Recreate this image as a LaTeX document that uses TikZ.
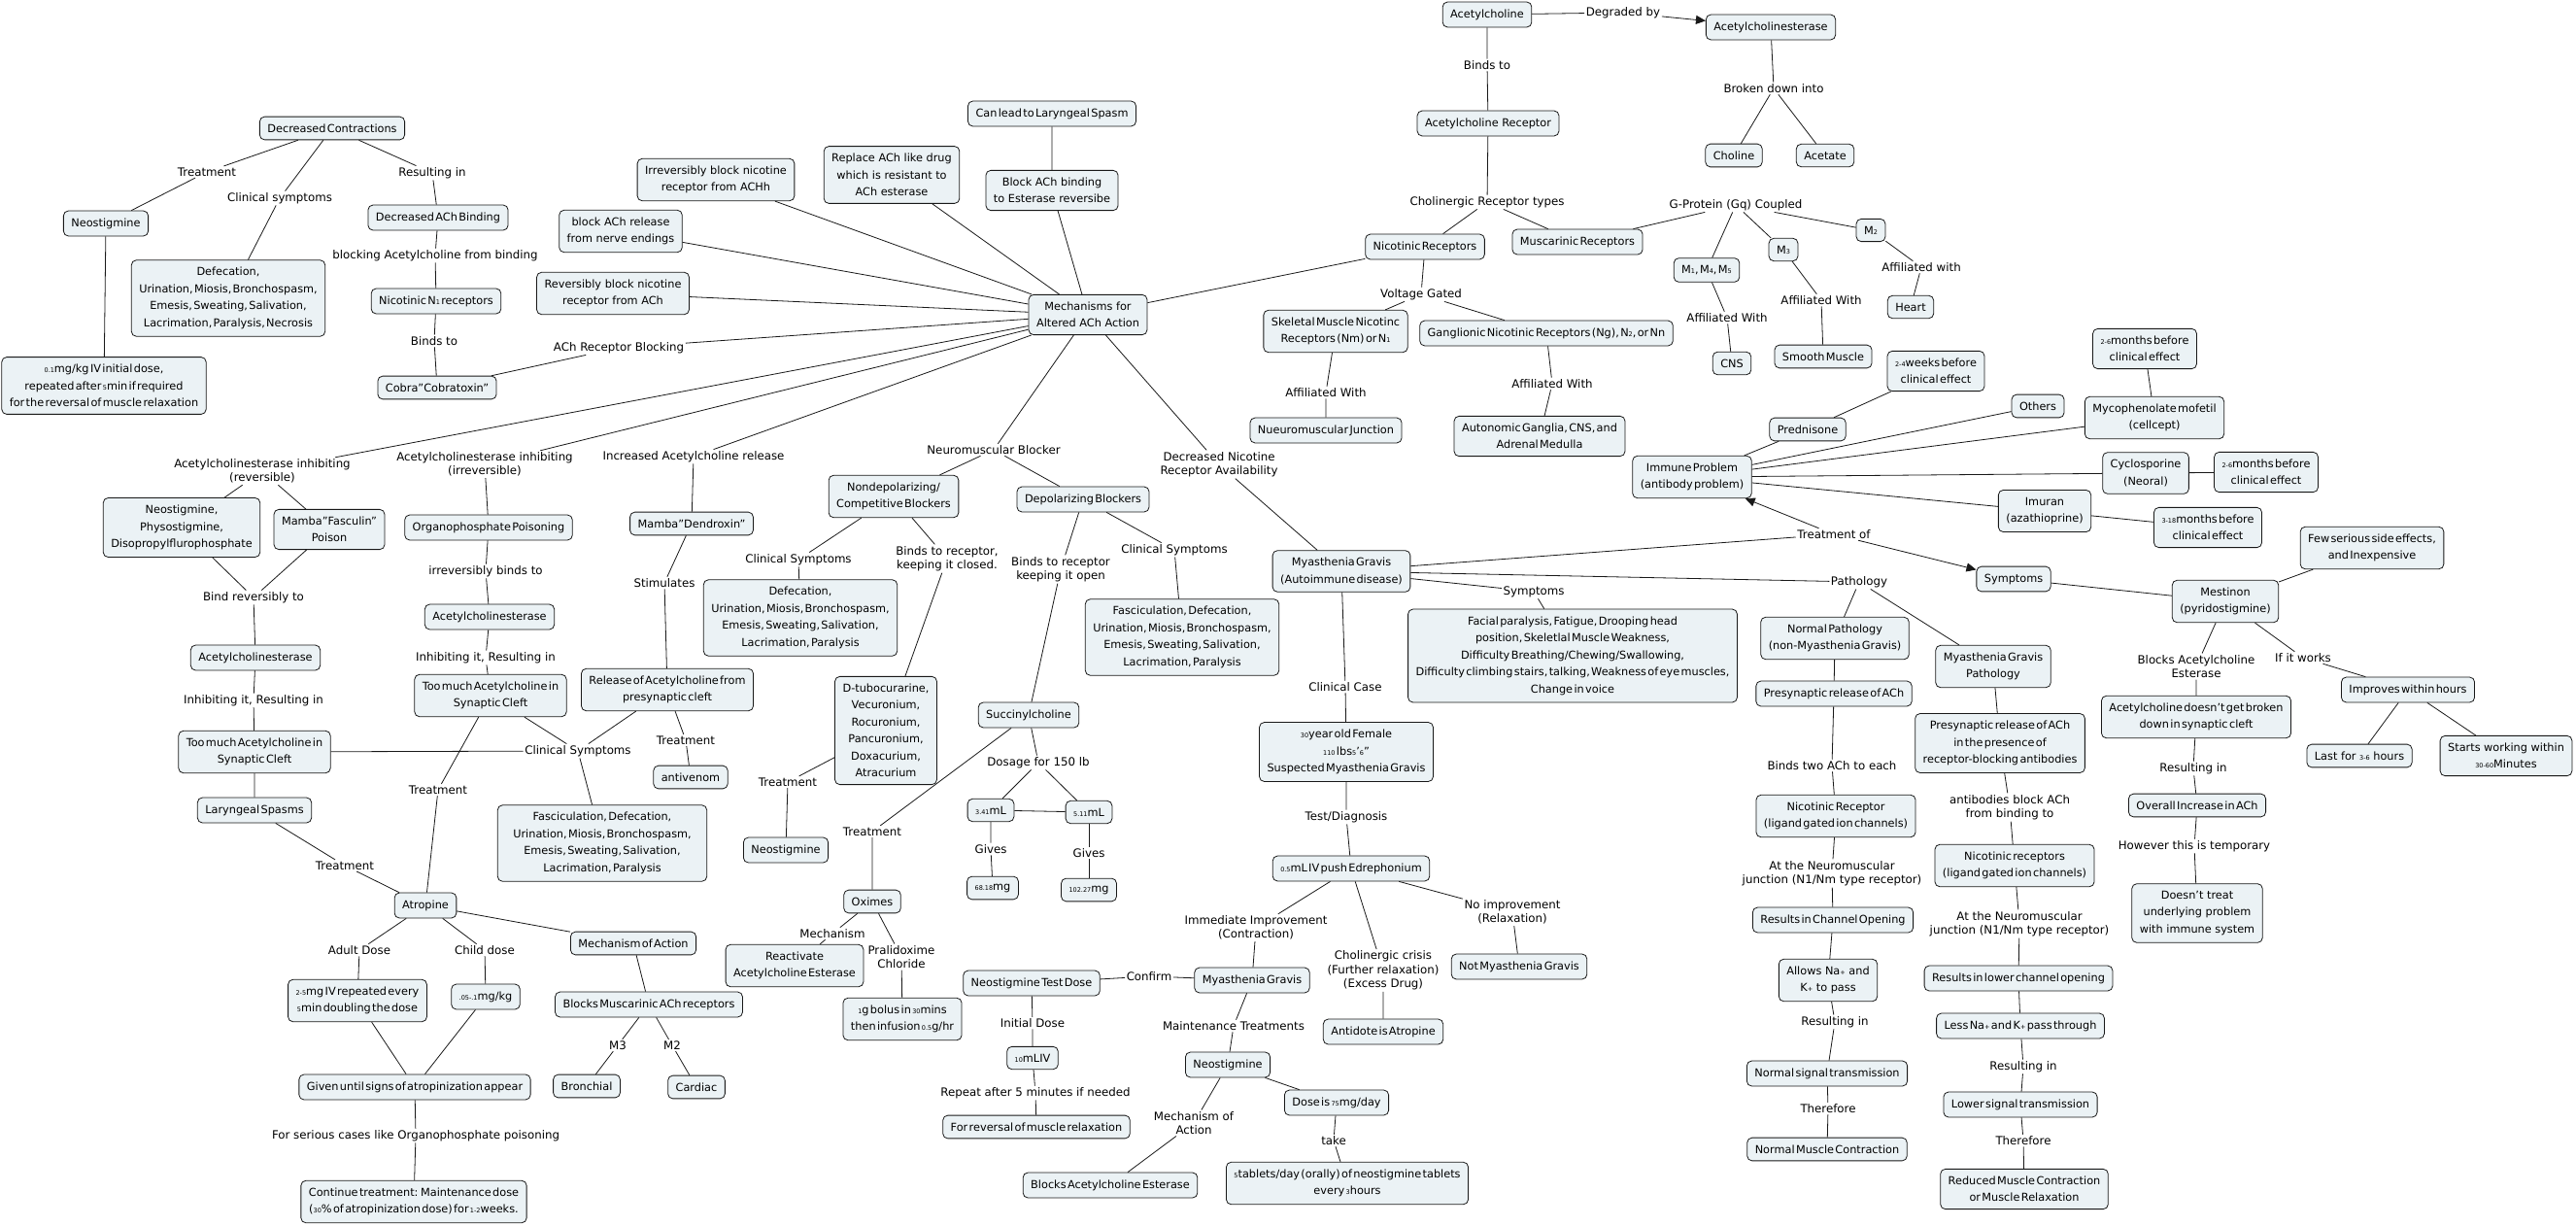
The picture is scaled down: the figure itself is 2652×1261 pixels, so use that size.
\documentclass[tikz,border=0pt]{standalone}
\usepackage{fontspec}
\setmainfont{DejaVu Sans}
\usepackage{xcolor}
\usepackage{tikz}
\usetikzlibrary{arrows.meta}
\definecolor{conceptfill}{RGB}{235,242,245}
\newcommand\boxfont{\fontsize{11.3}{17.5}\selectfont}
\newcommand\linkfont{\fontsize{11.8}{14.5}\selectfont}
\newcommand\tightsp{\spaceskip=0.12em\relax}
\newcommand\dg[1]{{\fontsize{6.5}{7}\selectfont #1}}
\tikzset{
	cbox/.style={draw=black!90, fill=conceptfill, rounded corners=5pt, align=center,
		inner xsep=8pt, inner ysep=7.5pt, line width=0.8pt, font=\boxfont},
	tbox/.style={cbox, font=\boxfont\tightsp},
	lbl/.style={fill=white, inner sep=1.5pt, align=center, font=\linkfont},
	link/.style={line width=0.8pt, draw=black!90},
	linkarrow/.style={-{Triangle[length=10pt,width=9pt]}, line width=0.8pt, draw=black!90}
}
\begin{document}
\begin{tikzpicture}[x=1pt, y=-1pt]

%% -- Canvas (pixel grid of the map)
\fill[white] (0,0) rectangle (2652,1261);
\useasboundingbox (0,0) rectangle (2652,1261);

%% -- Hub
\node[cbox] (mech) at (1120,324) {Mechanisms for\\Altered ACh Action};
\node[cbox] (irrev) at (737,185) {Irreversibly block nicotine\\receptor from ACHh};
\node[cbox] (relblock) at (639,238) {block ACh release\\from nerve endings};
\node[cbox] (revblock) at (631,302) {Reversibly block nicotine\\receptor from ACh};
\node[cbox] (replace) at (918,180) {Replace ACh like drug\\which is resistant to\\ACh esterase};
\node[cbox] (blockbind) at (1083,196) {Block ACh binding\\to Esterase reversibe};
\node[tbox] (canlead) at (1083,117) {Can lead to Laryngeal Spasm};

%% -- Receptor blocking (top left)
\node[tbox] (deccon) at (342,132) {Decreased Contractions};
\node[cbox] (neo1) at (109,230) {Neostigmine};
\node[tbox] (defec1) at (235,307) {Defecation,\\Urination, Miosis, Bronchospasm,\\Emesis, Sweating, Salivation,\\Lacrimation, Paralysis, Necrosis};
\node[tbox] (dose1) at (107,397) {\dg{0.1}mg/kg IV initial dose,\\repeated after \dg{5}min if required\\for the reversal of muscle relaxation};
\node[tbox] (dacb) at (451,224) {Decreased ACh Binding};
\node[tbox] (nicn1) at (449,310) {Nicotinic N\dg{1} receptors};
\node[cbox] (cobra) at (450,399) {Cobra"Cobratoxin"};

\node[lbl] (lTreat1) at (213,177) {Treatment};
\node[lbl] (lClin1) at (288,204) {Clinical symptoms};
\node[lbl] (lRes1) at (445,178) {Resulting in};
\node[lbl] (lBlock) at (448,263) {blocking Acetylcholine from binding};
\node[lbl] (lBinds1) at (447,351) {Binds to};
\node[lbl] (lRecBlock) at (637,358) {ACh Receptor Blocking};

%% -- Esterase inhibitors and release (bottom left)
\node[lbl] (lInhRev) at (270,485) {Acetylcholinesterase inhibiting\\(reversible)};
\node[lbl] (lInhIrr) at (499,478) {Acetylcholinesterase inhibiting\\(irreversible)};
\node[lbl] (lIncRel) at (714,470) {Increased Acetylcholine release};

\node[cbox] (neophys) at (187,543) {Neostigmine,\\Physostigmine,\\Disopropylflurophosphate};
\node[cbox] (fasculin) at (339,545) {Mamba"Fasculin"\\Poison};
\node[lbl] (lBindRev) at (261,615) {Bind reversibly to};
\node[cbox] (ache1) at (263,677) {Acetylcholinesterase};
\node[lbl] (lInh1) at (261,721) {Inhibiting it, Resulting in};
\node[tbox] (toomuch1) at (262,774) {Too much Acetylcholine in\\Synaptic Cleft};
\node[tbox] (laryn) at (262,834) {Laryngeal Spasms};

\node[tbox] (organo) at (503,543) {Organophosphate Poisoning};
\node[lbl] (lIrrBind) at (500,588) {irreversibly binds to};
\node[cbox] (ache2) at (504,635) {Acetylcholinesterase};
\node[lbl] (lInh2) at (500,677) {Inhibiting it, Resulting in};
\node[tbox] (toomuch2) at (505,716) {Too much Acetylcholine in\\Synaptic Cleft};

\node[tbox] (dendro) at (712,539) {Mamba"Dendroxin"};
\node[lbl] (lStim) at (684,600) {Stimulates};
\node[tbox] (release) at (687,710) {Release of Acetylcholine from\\presynaptic cleft};
\node[lbl] (lTreat3) at (706,762) {Treatment};
\node[cbox] (antiven) at (711,800) {antivenom};

\node[lbl] (lClin2) at (595,773) {Clinical Symptoms};
\node[tbox, inner xsep=16pt] (fasc1) at (620,868) {Fasciculation, Defecation,\\Urination, Miosis, Bronchospasm,\\Emesis, Sweating, Salivation,\\Lacrimation, Paralysis};
\node[lbl] (lTreat2) at (451,813) {Treatment};
\node[lbl] (lTreat4) at (355,891) {Treatment};

%% -- Atropine
\node[cbox] (atropine) at (438,932) {Atropine};
\node[lbl] (lAdult) at (370,978) {Adult Dose};
\node[lbl] (lChild) at (499,978) {Child dose};
\node[tbox] (adult) at (368,1030) {\dg{2-5}mg IV repeated every\\\dg{5}min doubling the dose};
\node[tbox] (child) at (500,1026) {\dg{.05-.1}mg/kg};
\node[tbox] (given) at (427,1119) {Given until signs of atropinization appear};
\node[lbl] (lSerious) at (428,1169) {For serious cases like Organophosphate poisoning};
\node[tbox] (cont) at (426,1237) {Continue treatment: Maintenance dose\\(\dg{30}\% of atropinization dose) for \dg{1-2}weeks.};
\node[tbox] (moa) at (652,971) {Mechanism of Action};
\node[tbox] (blmusc) at (668,1034) {Blocks Muscarinic ACh receptors};
\node[lbl] (lM3) at (636,1076) {M3};
\node[lbl] (lM2) at (692,1076) {M2};
\node[cbox] (bronch) at (604,1118) {Bronchial};
\node[cbox] (cardiac) at (717,1119) {Cardiac};

%% -- Neuromuscular blockers
\node[lbl] (lNMB) at (1023,463) {Neuromuscular Blocker};
\node[tbox] (nondep) at (920,511) {Nondepolarizing/\\Competitive Blockers};
\node[tbox] (depol) at (1115,514) {Depolarizing Blockers};
\node[lbl] (lClin3) at (822,576) {Clinical Symptoms};
\node[tbox] (defec2) at (824,636) {Defecation,\\Urination, Miosis, Bronchospasm,\\Emesis, Sweating, Salivation,\\Lacrimation, Paralysis};
\node[lbl] (lClosed) at (975,575) {Binds to receptor,\\keeping it closed.};
\node[cbox] (dtubo) at (912,752) {D-tubocurarine,\\Vecuronium,\\Rocuronium,\\Pancuronium,\\Doxacurium,\\Atracurium};
\node[lbl] (lOpen) at (1092,586) {Binds to receptor\\keeping it open};
\node[cbox] (succ) at (1059,736) {Succinylcholine};
\node[lbl] (lClin4) at (1209,566) {Clinical Symptoms};
\node[tbox] (fasc2) at (1217,656) {Fasciculation, Defecation,\\Urination, Miosis, Bronchospasm,\\Emesis, Sweating, Salivation,\\Lacrimation, Paralysis};
\node[lbl] (lTreat5) at (811,805) {Treatment};
\node[cbox] (neo2) at (809,875) {Neostigmine};
\node[lbl] (lTreat6) at (898,856) {Treatment};
\node[cbox] (oximes) at (898,928) {Oximes};
\node[lbl] (lDosage) at (1069,785) {Dosage for 150 lb};
\node[tbox] (mlA) at (1020,834) {\dg{3.41}mL};
\node[tbox] (mlB) at (1121,836) {\dg{5.11}mL};
\node[lbl] (lGives1) at (1020,874) {Gives};
\node[lbl] (lGives2) at (1121,878) {Gives};
\node[tbox] (mgA) at (1022,914) {\dg{68.18}mg};
\node[tbox] (mgB) at (1121,916) {\dg{102.27}mg};
\node[lbl] (lMech) at (857,961) {Mechanism};
\node[tbox] (react) at (818,994) {Reactivate\\Acetylcholine Esterase};
\node[lbl] (lPral) at (928,985) {Pralidoxime\\Chloride};
\node[tbox] (bolus) at (929,1049) {\dg{1}g bolus in \dg{30}mins\\then infusion \dg{0.5}g/hr};

%% -- Acetylcholine and receptor types (top)
\node[cbox] (ach) at (1531,15) {Acetylcholine};
\node[lbl] (lDegr) at (1671,13) {Degraded by};
\node[cbox] (acheTop) at (1823,28) {Acetylcholinesterase};
\node[lbl] (lBinds2) at (1531,67) {Binds to};
\node[cbox] (achr) at (1532,127) {Acetylcholine Receptor};
\node[lbl] (lBroken) at (1826,91) {Broken down into};
\node[cbox] (choline) at (1785,160) {Choline};
\node[cbox] (acetate) at (1879,160) {Acetate};
\node[lbl] (lCholTypes) at (1531,208) {Cholinergic Receptor types};
\node[tbox] (nicrec) at (1467,254) {Nicotinic Receptors};
\node[tbox] (muscrec) at (1624,249) {Muscarinic Receptors};
\node[lbl] (lGprot) at (1787,211) {G-Protein (Gq) Coupled};
\node[tbox] (m145) at (1757,278) {M\dg{1}, M\dg{4}, M\dg{5}};
\node[tbox] (m3) at (1836,257) {M\dg{3}};
\node[tbox] (m2) at (1926,237) {M\dg{2}};
\node[lbl] (lAffCNS) at (1778,327) {Affiliated With};
\node[lbl] (lAffSM) at (1875,309) {Affiliated With};
\node[lbl] (lAffHeart) at (1978,275) {Affiliated with};
\node[cbox] (cns) at (1783,374) {CNS};
\node[tbox] (smooth) at (1877,367) {Smooth Muscle};
\node[cbox] (heart) at (1967,316) {Heart};
\node[lbl] (lVolt) at (1463,303) {Voltage Gated};
\node[tbox] (skel) at (1375,341) {Skeletal Muscle Nicotinc\\Receptors (Nm) or N\dg{1}};
\node[tbox] (gangl) at (1592,343) {Ganglionic Nicotinic Receptors (Ng), N\dg{2}, or Nn};
\node[lbl] (lAffNMJ) at (1365,404) {Affiliated With};
\node[lbl] (lAffAuto) at (1598,395) {Affiliated With};
\node[tbox] (nmj) at (1365,443) {Nueuromuscular Junction};
\node[tbox] (autonom) at (1585,449) {Autonomic Ganglia, CNS, and\\Adrenal Medulla};

%% -- Myasthenia gravis
\node[lbl] (lDecNic) at (1255,478) {Decreased Nicotine\\Receptor Availability};
\node[tbox] (mgrav) at (1381,588) {Myasthenia Gravis\\(Autoimmune disease)};
\node[lbl] (lClinCase) at (1385,707) {Clinical Case};
\node[tbox] (case) at (1386,774) {\dg{30}year old Female\\\dg{110} lbs\dg{5}'\dg{6}"\\Suspected Myasthenia Gravis};
\node[lbl] (lTest) at (1386,841) {Test/Diagnosis};
\node[tbox] (edro) at (1391,894) {\dg{0.5}mL IV push Edrephonium};
\node[lbl] (lImm) at (1293,955) {Immediate Improvement\\(Contraction)};
\node[lbl] (lChol) at (1424,999) {Cholinergic crisis\\(Further relaxation)\\(Excess Drug)};
\node[lbl] (lNoImp) at (1557,939) {No improvement\\(Relaxation)};
\node[tbox] (mgconf) at (1289,1009) {Myasthenia Gravis};
\node[tbox] (antid) at (1424,1062) {Antidote is Atropine};
\node[tbox] (notmg) at (1564,995) {Not Myasthenia Gravis};
\node[lbl] (lConfirm) at (1183,1005) {Confirm};
\node[tbox] (testdose) at (1062,1012) {Neostigmine Test Dose};
\node[lbl] (lInit) at (1063,1053) {Initial Dose};
\node[tbox] (ml10) at (1063,1089) {\dg{10}mLIV};
\node[lbl] (lRepeat) at (1066,1125) {Repeat after 5 minutes if needed};
\node[tbox] (forrev) at (1067,1160) {For reversal of muscle relaxation};
\node[lbl] (lMaint) at (1270,1056) {Maintenance Treatments};
\node[cbox] (neo3) at (1264,1096) {Neostigmine};
\node[lbl] (lMoA2) at (1229,1156) {Mechanism of\\Action};
\node[tbox] (blache) at (1143,1220) {Blocks Acetylcholine Esterase};
\node[tbox] (dose75) at (1376,1135) {Dose is \dg{75}mg/day};
\node[lbl] (lTake) at (1373,1174) {take};
\node[tbox] (tablets) at (1387,1218) {\dg{5}tablets/day (orally) of neostigmine tablets\\every \dg{3}hours};

\node[lbl] (lSympt) at (1579,609) {Symptoms};
\node[tbox] (facial) at (1619,675) {Facial paralysis, Fatigue, Drooping head\\position, Skeletlal Muscle Weakness,\\Difficulty Breathing/Chewing/Swallowing,\\Difficulty climbing stairs, talking, Weakness of eye muscles,\\Change in voice};

%% -- Pathology columns
\node[lbl] (lPath) at (1914,599) {Pathology};
\node[tbox] (normpath) at (1889,657) {Normal Pathology\\(non-Myasthenia Gravis)};
\node[tbox] (presyn) at (1888,714) {Presynaptic release of ACh};
\node[lbl] (lBindsTwo) at (1886,788) {Binds two ACh to each};
\node[tbox] (nicr) at (1890,840) {Nicotinic Receptor\\(ligand gated ion channels)};
\node[lbl] (lNMJ1) at (1886,899) {At the Neuromuscular\\junction (N1/Nm type receptor)};
\node[tbox] (chopen) at (1887,947) {Results in Channel Opening};
\node[cbox] (allows) at (1882,1009) {Allows Na\dg{+} and\\K\dg{+} to pass};
\node[lbl] (lRes2) at (1889,1052) {Resulting in};
\node[tbox] (normsig) at (1881,1105) {Normal signal transmission};
\node[lbl] (lThere1) at (1882,1141) {Therefore};
\node[tbox] (normmc) at (1881,1183) {Normal Muscle Contraction};

\node[tbox] (mgpath) at (2052,686) {Myasthenia Gravis\\Pathology};
\node[tbox] (presyn2) at (2059,765) {Presynaptic release of ACh\\in the presence of\\receptor-blocking antibodies};
\node[lbl] (lAntib) at (2069,831) {antibodies block ACh\\from binding to};
\node[tbox] (nicr2) at (2074,891) {Nicotinic receptors\\(ligand gated ion channels)};
\node[lbl] (lNMJ2) at (2079,951) {At the Neuromuscular\\junction (N1/Nm type receptor)};
\node[tbox] (lowopen) at (2078,1007) {Results in lower channel opening};
\node[tbox] (lessna) at (2080,1056) {Less Na\dg{+} and K\dg{+} pass through};
\node[lbl] (lRes3) at (2083,1098) {Resulting in};
\node[tbox] (lowsig) at (2080,1137) {Lower signal transmission};
\node[lbl] (lThere2) at (2083,1174) {Therefore};
\node[tbox] (reduced) at (2084,1224) {Reduced Muscle Contraction\\or Muscle Relaxation};

%% -- Treatment of MG
\node[lbl] (lTreatOf) at (1888,550) {Treatment of};
\node[tbox] (immune) at (1742,491) {Immune Problem\\(antibody problem)};
\node[cbox] (symptoms) at (2073,596) {Symptoms};
\node[cbox] (pred) at (1861,442) {Prednisone};
\node[tbox] (wk24) at (1993,382) {\dg{2-4}weeks before\\clinical effect};
\node[cbox] (others) at (2098,418) {Others};
\node[tbox] (myco) at (2218,430) {Mycophenolate mofetil\\(cellcept)};
\node[tbox] (mo26a) at (2208,359) {\dg{2-6}months before\\clinical effect};
\node[cbox] (cyclo) at (2209,487) {Cyclosporine\\(Neoral)};
\node[tbox] (mo26b) at (2333,486) {\dg{2-6}months before\\clinical effect};
\node[cbox] (imuran) at (2105,526) {Imuran\\(azathioprine)};
\node[tbox] (mo318) at (2273,543) {\dg{3-18}months before\\clinical effect};

\node[cbox] (mestinon) at (2291,619) {Mestinon\\(pyridostigmine)};
\node[tbox] (few) at (2442,564) {Few serious side effects,\\and Inexpensive};
\node[lbl] (lBlocksAChE) at (2261,686) {Blocks Acetylcholine\\Esterase};
\node[tbox] (achdoesnt) at (2261,738) {Acetylcholine doesn't get broken\\down in synaptic cleft};
\node[lbl] (lRes4) at (2258,791) {Resulting in};
\node[tbox] (overall) at (2262,829) {Overall Increase in ACh};
\node[lbl] (lTemp) at (2259,871) {However this is temporary};
\node[cbox] (doesnt) at (2262,940) {Doesn't treat\\underlying problem\\with immune system};
\node[lbl] (lIfWorks) at (2371,677) {If it works};
\node[tbox] (improves) at (2479,710) {Improves within hours};
\node[cbox] (lastfor) at (2429,778) {Last for \dg{3-6} hours};
\node[cbox] (starts) at (2580,778) {Starts working within\\\dg{30-60}Minutes};

%% -- Connectors: hub
\draw[link] (mech) -- (irrev);
\draw[link] (mech) -- (relblock);
\draw[link] (mech) -- (revblock);
\draw[link] (mech) -- (replace);
\draw[link] (mech) -- (blockbind) -- (canlead);
\draw[link] (mech) -- (lRecBlock) -- (cobra);
\draw[link] (mech) -- (lInhRev);
\draw[link] (mech) -- (lInhIrr);
\draw[link] (mech) -- (lIncRel);
\draw[link] (mech) -- (lNMB);
\draw[link] (mech) -- (lDecNic) -- (mgrav);
\draw[link] (mech) -- (nicrec);

%% -- Connectors: top left
\draw[link] (deccon) -- (lTreat1) -- (neo1) -- (dose1);
\draw[link] (deccon) -- (lClin1) -- (defec1);
\draw[link] (deccon) -- (lRes1) -- (dacb) -- (lBlock) -- (nicn1) -- (lBinds1) -- (cobra);

%% -- Connectors: bottom left
\draw[link] (lInhRev) -- (neophys);
\draw[link] (lInhRev) -- (fasculin);
\draw[link] (neophys) -- (lBindRev);
\draw[link] (fasculin) -- (lBindRev);
\draw[link] (lBindRev) -- (ache1) -- (lInh1) -- (toomuch1) -- (laryn) -- (lTreat4) -- (atropine);
\draw[link] (toomuch1) -- (lClin2);
\draw[link] (lInhIrr) -- (organo) -- (lIrrBind) -- (ache2) -- (lInh2) -- (toomuch2) -- (lClin2);
\draw[link] (toomuch2) -- (lTreat2) -- (atropine);
\draw[link] (lIncRel) -- (dendro) -- (lStim) -- (release) -- (lClin2);
\draw[link] (release) -- (lTreat3) -- (antiven);
\draw[link] (lClin2) -- (fasc1);
\draw[link] (atropine) -- (lAdult) -- (adult) -- (given);
\draw[link] (atropine) -- (lChild) -- (child) -- (given);
\draw[link] (given) -- (lSerious) -- (cont);
\draw[link] (atropine) -- (moa) -- (blmusc);
\draw[link] (blmusc) -- (lM3) -- (bronch);
\draw[link] (blmusc) -- (lM2) -- (cardiac);

%% -- Connectors: blockers
\draw[link] (lNMB) -- (nondep);
\draw[link] (lNMB) -- (depol);
\draw[link] (nondep) -- (lClin3) -- (defec2);
\draw[link] (nondep) -- (lClosed) -- (dtubo) -- (lTreat5) -- (neo2);
\draw[link] (depol) -- (lOpen) -- (succ);
\draw[link] (depol) -- (lClin4) -- (fasc2);
\draw[link] (succ) -- (lTreat6) -- (oximes);
\draw[link] (succ) -- (lDosage);
\draw[link] (lDosage) -- (mlA);
\draw[link] (lDosage) -- (mlB);
\draw[link] (mlA) -- (mlB);
\draw[link] (mlA) -- (lGives1) -- (mgA);
\draw[link] (mlB) -- (lGives2) -- (mgB);
\draw[link] (oximes) -- (lMech) -- (react);
\draw[link] (oximes) -- (lPral) -- (bolus);

%% -- Connectors: top
\draw[link] (ach) -- (lDegr);
\draw[linkarrow] (lDegr) -- (acheTop);
\draw[link] (ach) -- (lBinds2) -- (achr) -- (lCholTypes);
\draw[link] (lCholTypes) -- (nicrec);
\draw[link] (lCholTypes) -- (muscrec);
\draw[link] (acheTop) -- (lBroken);
\draw[link] (lBroken) -- (choline);
\draw[link] (lBroken) -- (acetate);
\draw[link] (muscrec) -- (lGprot);
\draw[link] (lGprot) -- (m145);
\draw[link] (lGprot) -- (m3);
\draw[link] (lGprot) -- (m2);
\draw[link] (m145) -- (lAffCNS) -- (cns);
\draw[link] (m3) -- (lAffSM) -- (smooth);
\draw[link] (m2) -- (lAffHeart) -- (heart);
\draw[link] (nicrec) -- (lVolt);
\draw[link] (lVolt) -- (skel);
\draw[link] (lVolt) -- (gangl);
\draw[link] (skel) -- (lAffNMJ) -- (nmj);
\draw[link] (gangl) -- (lAffAuto) -- (autonom);

%% -- Connectors: myasthenia gravis
\draw[link] (mgrav) -- (lClinCase) -- (case) -- (lTest) -- (edro);
\draw[link] (edro) -- (lImm) -- (mgconf);
\draw[link] (edro) -- (lChol) -- (antid);
\draw[link] (edro) -- (lNoImp) -- (notmg);
\draw[link] (mgconf) -- (lConfirm) -- (testdose) -- (lInit) -- (ml10) -- (lRepeat) -- (forrev);
\draw[link] (mgconf) -- (lMaint) -- (neo3) -- (lMoA2) -- (blache);
\draw[link] (neo3) -- (dose75) -- (lTake) -- (tablets);
\draw[link] (mgrav) -- (lSympt) -- (facial);
\draw[link] (mgrav) -- (lPath);
\draw[link] (lPath) -- (normpath);
\draw[link] (lPath) -- (mgpath);
\draw[link] (normpath) -- (presyn) -- (lBindsTwo) -- (nicr) -- (lNMJ1) -- (chopen) -- (allows) -- (lRes2) -- (normsig) -- (lThere1) -- (normmc);
\draw[link] (mgpath) -- (presyn2) -- (lAntib) -- (nicr2) -- (lNMJ2) -- (lowopen) -- (lessna) -- (lRes3) -- (lowsig) -- (lThere2) -- (reduced);
\draw[link] (mgrav) -- (lTreatOf);
\draw[linkarrow] (lTreatOf) -- (immune);
\draw[linkarrow] (lTreatOf) -- (symptoms);
\draw[link] (immune) -- (pred) -- (wk24);
\draw[link] (immune) -- (others);
\draw[link] (immune) -- (myco) -- (mo26a);
\draw[link] (immune) -- (cyclo) -- (mo26b);
\draw[link] (immune) -- (imuran) -- (mo318);
\draw[link] (symptoms) -- (mestinon);
\draw[link] (mestinon) -- (few);
\draw[link] (mestinon) -- (lBlocksAChE) -- (achdoesnt) -- (lRes4) -- (overall) -- (lTemp) -- (doesnt);
\draw[link] (mestinon) -- (lIfWorks) -- (improves);
\draw[link] (improves) -- (lastfor);
\draw[link] (improves) -- (starts);

\end{tikzpicture}
\end{document}
